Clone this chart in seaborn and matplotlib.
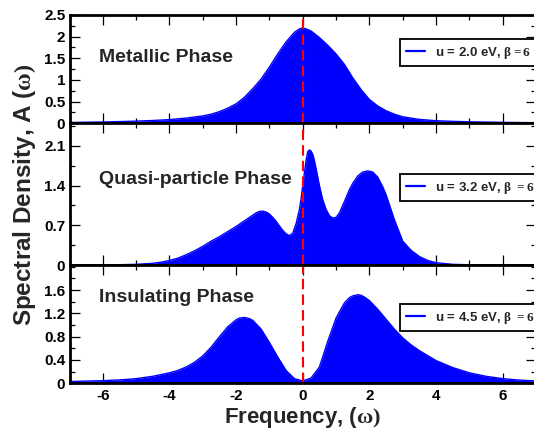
import matplotlib
matplotlib.use("Agg")
import matplotlib.pyplot as plt
import seaborn as sns
from matplotlib.ticker import FixedLocator, MultipleLocator, NullFormatter

# ---- spectral densities A(w) for three interaction strengths ----
freq_metal = [-7.0, -6.5, -6.0, -5.5, -5.0, -4.5, -4.0, -3.5, -3.0, -2.75, -2.5, -2.25,
              -2.0, -1.75, -1.5, -1.25, -1.0, -0.75, -0.5, -0.25, -0.1, 0.0, 0.1, 0.25,
              0.5, 0.75, 1.0, 1.25, 1.5, 1.75, 2.0, 2.25, 2.5, 2.75, 3.0, 3.5, 4.0, 4.5,
              5.0, 5.5, 6.0, 6.5, 7.0]
dos_metal = [0.02, 0.025, 0.03, 0.04, 0.05, 0.065, 0.085, 0.12, 0.17, 0.21, 0.27, 0.35,
             0.45, 0.60, 0.80, 1.02, 1.30, 1.60, 1.88, 2.10, 2.18, 2.20, 2.18, 2.13,
             1.98, 1.80, 1.60, 1.36, 1.05, 0.78, 0.55, 0.40, 0.29, 0.21, 0.15, 0.09,
             0.06, 0.045, 0.035, 0.028, 0.022, 0.018, 0.015]

freq_quasi = [-7.0, -6.0, -5.5, -5.0, -4.5, -4.25, -4.0, -3.75, -3.5, -3.25, -3.0, -2.75,
              -2.5, -2.25, -2.0, -1.75, -1.5, -1.4, -1.3, -1.2, -1.1, -1.0, -0.9, -0.8,
              -0.7, -0.6, -0.5, -0.4, -0.3, -0.2, -0.1, -0.05, 0.0, 0.05, 0.1, 0.15,
              0.2, 0.25, 0.3, 0.35, 0.4, 0.5, 0.6, 0.7, 0.8, 0.9, 1.0, 1.1, 1.25, 1.4,
              1.5, 1.65, 1.8, 1.95, 2.1, 2.25, 2.4, 2.5, 2.75, 3.0, 3.25, 3.5, 3.75,
              4.0, 4.5, 5.0, 6.0, 7.0]
dos_quasi = [0.0, 0.002, 0.005, 0.012, 0.03, 0.05, 0.08, 0.12, 0.18, 0.25, 0.33, 0.42,
             0.50, 0.59, 0.68, 0.78, 0.88, 0.92, 0.945, 0.95, 0.935, 0.90, 0.84, 0.77,
             0.69, 0.61, 0.55, 0.52, 0.56, 0.73, 0.98, 1.17, 1.40, 1.63, 1.85, 2.00,
             2.03, 2.01, 1.95, 1.84, 1.70, 1.40, 1.15, 0.98, 0.87, 0.83, 0.84, 0.92,
             1.12, 1.33, 1.44, 1.57, 1.64, 1.66, 1.64, 1.55, 1.38, 1.24, 0.80, 0.42,
             0.26, 0.15, 0.08, 0.04, 0.012, 0.004, 0.001, 0.0]

freq_insul = [-7.0, -6.5, -6.0, -5.5, -5.0, -4.5, -4.0, -3.75, -3.5, -3.25, -3.0, -2.75,
              -2.5, -2.25, -2.0, -1.9, -1.75, -1.6, -1.5, -1.25, -1.0, -0.75, -0.5,
              -0.25, 0.0, 0.25, 0.5, 0.75, 1.0, 1.25, 1.4, 1.5, 1.65, 1.75, 1.85, 2.0,
              2.25, 2.5, 2.75, 3.0, 3.25, 3.5, 4.0, 4.5, 5.0, 5.5, 6.0, 6.5, 7.0]
dos_insul = [0.03, 0.038, 0.045, 0.058, 0.08, 0.12, 0.18, 0.22, 0.28, 0.36, 0.47, 0.62,
             0.80, 0.97, 1.09, 1.12, 1.13, 1.11, 1.08, 0.93, 0.70, 0.45, 0.22,
             0.08, 0.04, 0.09, 0.28, 0.72, 1.12, 1.38, 1.47, 1.50, 1.52, 1.51, 1.48, 1.42,
             1.27, 1.10, 0.93, 0.78, 0.66, 0.56, 0.39, 0.27, 0.18, 0.12, 0.08, 0.055, 0.04]

phase_names = ["Metallic Phase", "Quasi-particle Phase", "Insulating Phase"]
legend_labels = [r"u = 2.0 eV, $\beta=6$",
                 r"u = 3.2 eV, $\beta\ =6$",
                 r"u = 4.5 eV, $\beta\ =6$"]

ytick_values = [[0, 0.5, 1.0, 1.5, 2.0, 2.5],
                [0, 0.7, 1.4, 2.1],
                [0, 0.4, 0.8, 1.2, 1.6]]
ytick_labels = [["0", "0.5", "1", "1.5", "2", "2.5"],
                ["0", "0.7", "1.4", "2.1"],
                ["0", "0.4", "0.8", "1.2", "1.6"]]
yminor_step = [0.25, 0.35, 0.2]
ytop = [2.5, 2.5, 2.03]

xtick_values = [-6, -4, -2, 0, 2, 4, 6]
xtick_labels = ["-6", "-4", "-2", "0", "2", "4", "6"]

sns.set_style("ticks")
plt.rcParams.update({
    "font.family": ["Liberation Sans", "DejaVu Sans"],
    "font.weight": "bold",
    "mathtext.fontset": "custom",
    "mathtext.rm": "Liberation Serif",
    "mathtext.it": "Liberation Serif",
    "mathtext.bf": "Liberation Serif:bold",
    "axes.linewidth": 2.0,
    "xtick.direction": "in",
    "ytick.direction": "in",
    "xtick.top": True,
    "ytick.right": True,
    "xtick.major.size": 7.2,
    "xtick.minor.size": 3.6,
    "ytick.major.size": 7.2,
    "ytick.minor.size": 3.6,
    "xtick.major.width": 0.9,
    "xtick.minor.width": 0.9,
    "ytick.major.width": 0.9,
    "ytick.minor.width": 0.9,
    "xtick.color": "black",
    "ytick.color": "black",
    "axes.edgecolor": "black",
})

fig = plt.figure(figsize=(5.34, 4.36), dpi=100)
gs = fig.add_gridspec(3, 1, height_ratios=[108.3, 141.7, 118.3], hspace=0,
                      left=69.5 / 534, right=536 / 534,
                      top=1 - 15 / 436, bottom=1 - 383.3 / 436)
axes = [fig.add_subplot(gs[i]) for i in range(3)]

series = [(freq_metal, dos_metal), (freq_quasi, dos_quasi), (freq_insul, dos_insul)]
name_y = [0.603, 0.60, 0.727]
legend_top = [0.776, 0.642, 0.670]

for i, ax in enumerate(axes):
    w, a = series[i]
    ax.fill_between(w, 0, a, color="#0000ff", lw=0, zorder=2)
    sns.lineplot(x=w, y=a, ax=ax, color="#0000ff", lw=1.0, sort=False,
                 estimator=None, label=legend_labels[i], zorder=3)
    ax.axvline(0, color="red", lw=1.5, ls=(0, (5, 2.5)), zorder=4)

    ax.set_xlim(-7, 7)
    ax.set_ylim(0, ytop[i])
    ax.xaxis.set_major_locator(FixedLocator(xtick_values))
    ax.xaxis.set_minor_locator(MultipleLocator(1))
    ax.yaxis.set_major_locator(FixedLocator(ytick_values[i]))
    ax.set_yticklabels(ytick_labels[i], fontsize=11, fontweight="bold")
    ax.yaxis.set_minor_locator(MultipleLocator(yminor_step[i]))
    ax.tick_params(axis="y", pad=3)
    ax.tick_params(axis="x", pad=4)
    if i < 2:
        ax.xaxis.set_major_formatter(NullFormatter())
    else:
        ax.set_xticklabels(xtick_labels, fontsize=11, fontweight="bold")
    ax.set_xlabel("")
    ax.set_ylabel("")
    for sp in ax.spines.values():
        sp.set_zorder(5)

    ax.text(0.063, name_y[i], phase_names[i], transform=ax.transAxes,
            fontsize=14, fontweight="bold", ha="left", va="center")

    leg = ax.legend(loc="upper left", bbox_to_anchor=(0.7085, legend_top[i], 0.2936, 0),
                    mode="expand", borderaxespad=0, fancybox=False, framealpha=1,
                    edgecolor="black", handlelength=1.5, handletextpad=0.7,
                    borderpad=0.42, prop={"size": 9.5, "weight": "bold"})
    leg.get_frame().set_linewidth(1.3)
    for line in leg.get_lines():
        line.set_linewidth(1.6)

fig.text(302.75 / 534, 1 - 423 / 436, r"Frequency, ($\omega)$", ha="center",
         va="baseline", fontsize=16, fontweight="bold")
fig.text(24.5 / 534, 1 - 195 / 436, r"Spectral Density, A ($\omega)$", ha="center",
         va="center", rotation=90, fontsize=17.5, fontweight="bold")

fig.savefig("out.png", dpi=100)
